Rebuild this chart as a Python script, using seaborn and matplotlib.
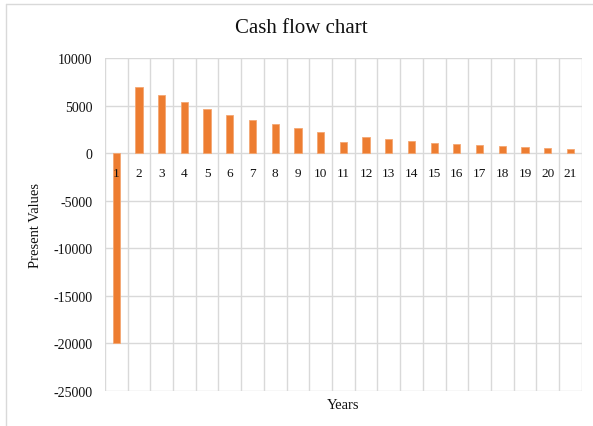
import pandas as pd
import numpy as np
import matplotlib.pyplot as plt
import seaborn as sns
from matplotlib.lines import Line2D

# Data
years = [str(i) for i in range(1, 22)]
present_values = [-20000, 7010, 6140, 5370, 4630, 4030, 3510, 3050, 2660, 2280,
                  1240, 1750, 1510, 1300, 1120, 950, 840, 740, 630, 530, 490]
y_ticks = [10000, 5000, 0, -5000, -10000, -15000, -20000, -25000]

df = pd.DataFrame({'Years': years, 'Present Values': present_values})

sns.set_theme(style='white')
plt.rcParams['font.family'] = ['Liberation Serif', 'DejaVu Serif']

fig = plt.figure(figsize=(5.93, 4.27), dpi=100)
ax = fig.add_axes([0.177, 0.082, 0.804, 0.779])

sns.barplot(data=df, x='Years', y='Present Values', color='#ED7D31',
            width=0.32, saturation=1, edgecolor='#F4A772', linewidth=0.6, ax=ax)
for p in ax.patches:
    p.set_zorder(1)

ax.set_ylim(-25000, 10000)
ax.set_xlim(-0.5, len(years) - 0.5)
ax.set_yticks(y_ticks)
ax.set_yticklabels([str(v) for v in y_ticks], fontsize=10, color='#111111')

# gridlines like the spreadsheet chart, kept under the bars
for v in y_ticks:
    ax.axhline(v, color='#D9D9D9', lw=1, zorder=0.5)
for b in np.arange(-0.5, len(years)):
    ax.axvline(b, color='#D9D9D9', lw=1, zorder=0.5)
ax.set_axisbelow(False)

for s in ['top', 'right', 'left']:
    ax.spines[s].set_visible(False)
ax.spines['bottom'].set_position(('data', 0))
ax.spines['bottom'].set_visible(False)
ax.tick_params(axis='x', length=0, pad=10, labelsize=9.5, labelcolor='#111111')
ax.tick_params(axis='y', length=0, pad=9)

ax.set_xlabel('')
ax.set_ylabel('Present Values', fontsize=10.5, color='#111111', labelpad=8)
ax.text(0.5, -0.022, 'Years', transform=ax.transAxes, ha='center', va='top',
        fontsize=10.5, color='#111111')

fig.suptitle('Cash flow chart', x=0.508, y=0.955, fontsize=15, color='#111111')

# chart frame (cropped, only top and left edges visible)
fig.add_artist(Line2D([0.0101, 1], [0.988, 0.988], transform=fig.transFigure,
                      color='#D9D9D9', lw=1))
fig.add_artist(Line2D([0.0101, 0.0101], [0, 0.988], transform=fig.transFigure,
                      color='#D9D9D9', lw=1))

fig.savefig('out.png', dpi=100)
